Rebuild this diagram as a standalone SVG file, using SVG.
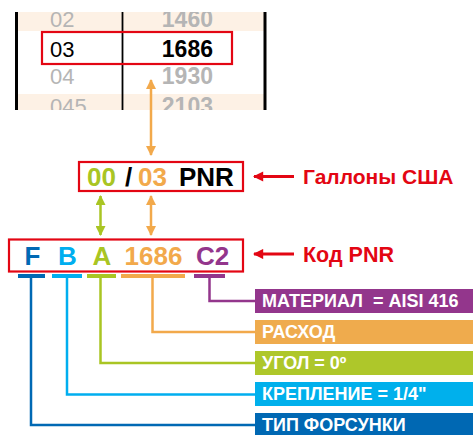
<svg xmlns="http://www.w3.org/2000/svg" width="473" height="435" viewBox="0 0 473 435">
  <style>
    text { font-family: "Liberation Sans", Arial, sans-serif; }
    .b { font-weight: bold; }
    .grey { fill: #b5b5b5; }
    .lbl { fill: #ffffff; font-weight: bold; font-size: 18px; white-space: pre; }
    .red { fill: #e30613; }
    .conn { fill: none; stroke-width: 2.5; }
    .bar { stroke-width: 4; }
  </style>
  <defs>
    <clipPath id="tclip"><rect x="0" y="12" width="300" height="98"/></clipPath>
    <marker id="hOr" viewBox="0 0 10 10" refX="9" refY="5" markerWidth="4" markerHeight="4" orient="auto-start-reverse" markerUnits="strokeWidth">
      <path d="M0,0 L10,5 L0,10 Z" fill="#f2a94b"/>
    </marker>
    <marker id="hGr" viewBox="0 0 10 10" refX="9" refY="5" markerWidth="4" markerHeight="4" orient="auto-start-reverse" markerUnits="strokeWidth">
      <path d="M0,0 L10,5 L0,10 Z" fill="#a9c523"/>
    </marker>
    <marker id="hRd" viewBox="0 0 10 10" refX="9" refY="5" markerWidth="4" markerHeight="3.4" orient="auto" markerUnits="strokeWidth">
      <path d="M0,0 L10,5 L0,10 Z" fill="#e30613"/>
    </marker>
  </defs>

  <!-- Table -->
  <g id="table" clip-path="url(#tclip)">
    <rect x="16" y="12" width="250" height="19" fill="#fdf1e5"/>
    <rect x="16" y="94" width="250" height="20" fill="#fdf1e5"/>
    <line x1="16.5" y1="12" x2="16.5" y2="110" stroke="#000" stroke-width="3"/>
    <line x1="122.5" y1="12" x2="122.5" y2="110" stroke="#000" stroke-width="1.8"/>
    <line x1="265" y1="12" x2="265" y2="110" stroke="#000" stroke-width="3"/>
    <text x="50" y="27" font-size="22" class="grey">02</text>
    <text x="213" y="27" font-size="23" class="grey b" text-anchor="end">1460</text>
    <text x="50" y="57" font-size="22" fill="#000">03</text>
    <text x="213" y="57" font-size="23" fill="#000" class="b" text-anchor="end">1686</text>
    <text x="50" y="84" font-size="22" class="grey">04</text>
    <text x="213" y="84" font-size="23" class="grey b" text-anchor="end">1930</text>
    <text x="50" y="114" font-size="22" class="grey">045</text>
    <text x="213" y="114" font-size="23" class="grey b" text-anchor="end">2103</text>
  </g>
  <g id="row-highlight">
    <rect x="42" y="32" width="190" height="32" fill="none" stroke="#e30613" stroke-width="2.2"/>
  </g>

  <!-- PNR box -->
  <g id="pnr-box">
    <rect x="79" y="162" width="164" height="29" fill="#fff" stroke="#e30613" stroke-width="2.2"/>
    <text x="87" y="186" font-size="26" class="b" fill="#a9c523">00</text>
    <text x="125" y="186" font-size="26" class="b" fill="#000">/</text>
    <text x="138" y="186" font-size="26" class="b" fill="#f2a94b">03</text>
    <text x="179" y="186" font-size="26" class="b" fill="#000">PNR</text>
  </g>
  <g id="pnr-label">
    <text x="303" y="184" font-size="21" class="b red">Галлоны США</text>
  </g>

  <!-- Code box -->
  <g id="code-box">
    <rect x="9" y="239.5" width="234" height="32" fill="#fff" stroke="#e30613" stroke-width="2.2"/>
    <text x="32.5" y="265" font-size="26" class="b" fill="#0069b4" text-anchor="middle">F</text>
    <text x="67.5" y="265" font-size="26" class="b" fill="#00aeef" text-anchor="middle">B</text>
    <text x="102" y="265" font-size="26" class="b" fill="#a9c523" text-anchor="middle">A</text>
    <text x="153.5" y="265" font-size="26" class="b" fill="#f2a94b" text-anchor="middle">1686</text>
    <text x="212.5" y="265" font-size="26" class="b" fill="#93368c" text-anchor="middle">C2</text>
  </g>
  <g id="code-label">
    <text x="303" y="262" font-size="21.5" class="b red">Код PNR</text>
  </g>

  <!-- Label boxes -->
  <g id="material">
    <rect x="255" y="289" width="218" height="24" fill="#93368c"/>
    <text x="262" y="307" class="lbl" xml:space="preserve">МАТЕРИАЛ  = AISI 416</text>
  </g>
  <g id="flow">
    <rect x="255" y="320" width="218" height="24" fill="#efab4d"/>
    <text x="262" y="338" class="lbl">РАСХОД</text>
  </g>
  <g id="angle">
    <rect x="255" y="351" width="218" height="24" fill="#aec72a"/>
    <text x="262" y="369" class="lbl">УГОЛ = 0º</text>
  </g>
  <g id="mount">
    <rect x="255" y="382" width="218" height="24" fill="#00b0ec"/>
    <text x="262" y="400" class="lbl">КРЕПЛЕНИЕ = 1/4"</text>
  </g>
  <g id="type">
    <rect x="255" y="413" width="218" height="24" fill="#0068b3"/>
    <text x="262" y="431" class="lbl">ТИП ФОРСУНКИ</text>
  </g>

  <!-- Connectors -->
  <g id="connectors">
    <line x1="151" y1="80" x2="151" y2="155" stroke="#f2a94b" stroke-width="2.5" marker-start="url(#hOr)" marker-end="url(#hOr)"/>
    <line x1="100.5" y1="196" x2="100.5" y2="235" stroke="#a9c523" stroke-width="2.5" marker-start="url(#hGr)" marker-end="url(#hGr)"/>
    <line x1="151" y1="196" x2="151" y2="235" stroke="#f2a94b" stroke-width="2.5" marker-start="url(#hOr)" marker-end="url(#hOr)"/>
    <line x1="294" y1="176.5" x2="254" y2="176.5" stroke="#e30613" stroke-width="3" marker-end="url(#hRd)"/>
    <line x1="294" y1="254" x2="254" y2="254" stroke="#e30613" stroke-width="3" marker-end="url(#hRd)"/>

    <line x1="194" y1="276" x2="225" y2="276" stroke="#93368c" class="bar"/>
    <polyline points="209.5,276 209.5,301 255,301" stroke="#93368c" class="conn"/>
    <line x1="121" y1="276" x2="185" y2="276" stroke="#f2a94b" class="bar"/>
    <polyline points="152.5,276 152.5,332 255,332" stroke="#f2a94b" class="conn"/>
    <line x1="87" y1="276" x2="116" y2="276" stroke="#a9c523" class="bar"/>
    <polyline points="100.5,276 100.5,363 255,363" stroke="#a9c523" class="conn"/>
    <line x1="52" y1="276" x2="82" y2="276" stroke="#00aeef" class="bar"/>
    <polyline points="67,276 67,394.5 255,394.5" stroke="#00aeef" class="conn"/>
    <line x1="18" y1="276" x2="45" y2="276" stroke="#0069b4" class="bar"/>
    <polyline points="31,276 31,425 255,425" stroke="#0069b4" class="conn"/>
  </g>
</svg>
